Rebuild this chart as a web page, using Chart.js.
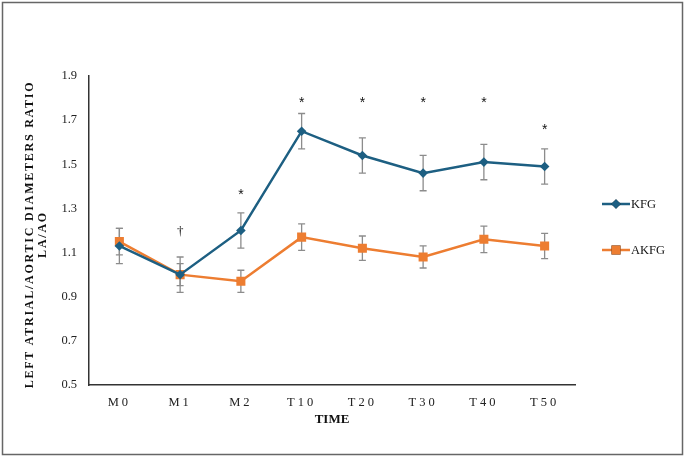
<!DOCTYPE html>
<html>
<head>
<meta charset="utf-8">
<script src="https://cdn.jsdelivr.net/npm/chart.js@4.4.1/dist/chart.umd.min.js"></script>
<style>
  html, body { margin: 0; padding: 0; background: #fff; }
  canvas { display: block; }
</style>
</head>
<body>
<canvas id="laChart" width="685" height="457"></canvas>
<script>
const ctx = document.getElementById('laChart').getContext('2d');

// data
const labels = ['M0', 'M1', 'M2', 'T10', 'T20', 'T30', 'T40', 'T50'];
const kfg = [1.13, 1.00, 1.20, 1.65, 1.54, 1.46, 1.51, 1.49];
const kfgErr = [0.08, 0.08, 0.08, 0.08, 0.08, 0.08, 0.08, 0.08];
const akfg = [1.15, 1.00, 0.97, 1.17, 1.12, 1.08, 1.16, 1.13];
const akfgErr = [0.06, 0.05, 0.05, 0.06, 0.055, 0.05, 0.06, 0.057];
const marks = ['', '†', '*', '*', '*', '*', '*', '*'];
const markY = [null, 1.195, 1.376, 1.795, 1.795, 1.795, 1.795, 1.673];
const yTicks = [0.5, 0.7, 0.9, 1.1, 1.3, 1.5, 1.7, 1.9];

const blue = '#1d5f82';
const orange = '#ed7d31';
const errs = [kfgErr, akfgErr];

Chart.defaults.font.family = '"Liberation Serif", "Times New Roman", serif';
Chart.defaults.color = '#222';

// letter spacing for some of the text (the figure uses spaced caps)
function spaced(scale, name, sp, dy) {
    if (scale['_sp_' + name]) return;
    const orig = scale[name];
    scale[name] = function (...args) {
        const c = this.ctx;
        const prev = c.letterSpacing;
        c.save();
        c.translate(0, dy || 0);
        c.letterSpacing = sp;
        orig.apply(this, args);
        c.letterSpacing = prev;
        c.restore();
    };
    scale['_sp_' + name] = true;
}

const extras = {
    id: 'extras',
    beforeDraw(chart) {
        spaced(chart.scales.x, 'drawLabels', '3px', 0);
        spaced(chart.scales.y, 'drawTitle', '1.75px', 4);
        const c = chart.ctx;
        c.save();
        c.strokeStyle = '#666';
        c.lineWidth = 1.5;
        c.strokeRect(2.5, 2.5, 680, 452);
        c.restore();
    },
    beforeDatasetsDraw(chart) {
        const c = chart.ctx;
        const xs = chart.scales.x, ys = chart.scales.y;
        c.save();
        c.strokeStyle = '#8c8c8c';
        c.lineWidth = 1.3;
        chart.data.datasets.forEach((ds, i) => {
            ds.data.forEach((v, j) => {
                const x = xs.getPixelForValue(j);
                const t = ys.getPixelForValue(v + errs[i][j]);
                const b = ys.getPixelForValue(v - errs[i][j]);
                c.beginPath();
                c.moveTo(x, t); c.lineTo(x, b);
                c.moveTo(x - 3.5, t); c.lineTo(x + 3.5, t);
                c.moveTo(x - 3.5, b); c.lineTo(x + 3.5, b);
                c.stroke();
            });
        });
        c.restore();
    },
    afterDatasetsDraw(chart) {
        const c = chart.ctx;
        const xs = chart.scales.x, ys = chart.scales.y;
        c.save();
        c.fillStyle = '#111';
        c.textAlign = 'center';
        marks.forEach((m, j) => {
            if (!m) return;
            const x = xs.getPixelForValue(j);
            const y = ys.getPixelForValue(markY[j]);
            if (m === '*') {
                c.font = '14px "Liberation Sans", Arial, sans-serif';
                c.textBaseline = 'alphabetic';
                c.fillText(m, x, y + 7.5);
            } else {
                c.font = '13px "Liberation Serif", serif';
                c.textBaseline = 'middle';
                c.fillText(m, x, y);
            }
        });

        // legend
        const rows = [204, 250];
        chart.data.datasets.forEach((ds, i) => {
            const y = rows[i];
            c.strokeStyle = ds.borderColor;
            c.lineWidth = 2.5;
            c.beginPath();
            c.moveTo(602, y); c.lineTo(630, y);
            c.stroke();
            Chart.helpers.drawPoint(c, {
                pointStyle: ds.pointStyle, radius: ds.pointRadius, borderWidth: 0
            }, 616, y);
            c.fillStyle = ds.borderColor;
            c.fill();
            c.fillStyle = '#111';
            c.font = '12.5px "Liberation Serif", serif';
            c.textAlign = 'left';
            c.textBaseline = 'middle';
            c.fillText(ds.label, 631, y + 0.5);
        });
        c.restore();
    }
};

const data = {
    labels,
    datasets: [{
        label: 'KFG',
        data: kfg,
        borderColor: blue,
        backgroundColor: blue,
        pointStyle: 'rectRot',
        pointRadius: 4.8,
        pointBorderWidth: 0,
        borderWidth: 2.5,
        tension: 0,
    }, {
        label: 'AKFG',
        data: akfg,
        borderColor: orange,
        backgroundColor: orange,
        pointStyle: 'rect',
        pointRadius: 6.4,
        pointBorderWidth: 0,
        borderWidth: 2.5,
        tension: 0,
    }],
};

const config = {
    type: 'line',
    data: data,
    options: {
        responsive: false,
        animation: false,
        layout: { padding: { left: 0, top: 76, right: 110, bottom: 0 } },
        plugins: {
            legend: { display: false },
            tooltip: { enabled: false },
        },
        scales: {
            x: {
                offset: true,
                grid: { display: false, drawTicks: false },
                border: { display: true, color: '#333', width: 1.5 },
                ticks: { padding: 10, font: { size: 12.5 }, color: '#222' },
                title: {
                    display: true,
                    text: 'TIME',
                    font: { size: 13, weight: 'bold' },
                    color: '#111',
                    padding: { top: 0, bottom: 30 },
                },
                afterFit(scale) { scale.height = 72; },
            },
            y: {
                min: 0.5,
                max: 1.9,
                afterBuildTicks(scale) { scale.ticks = yTicks.map(v => ({ value: v })); },
                grid: { display: false, drawTicks: false },
                border: { display: true, color: '#333', width: 1.5 },
                ticks: {
                    padding: 12,
                    font: { size: 12.5 },
                    color: '#222',
                    callback: v => v.toFixed(1),
                },
                title: {
                    display: true,
                    text: ['LEFT ATRIAL/AORTIC DIAMETERS RATIO', 'LA/AO'],
                    font: { size: 12, weight: 'bold', lineHeight: 1.08 },
                    color: '#111',
                    padding: { top: 23.5, bottom: 0 },
                },
                afterFit(scale) { scale.width = 89; },
            },
        },
    },
    plugins: [extras],
};

const myChart = new Chart(ctx, config);
</script>
</body>
</html>
